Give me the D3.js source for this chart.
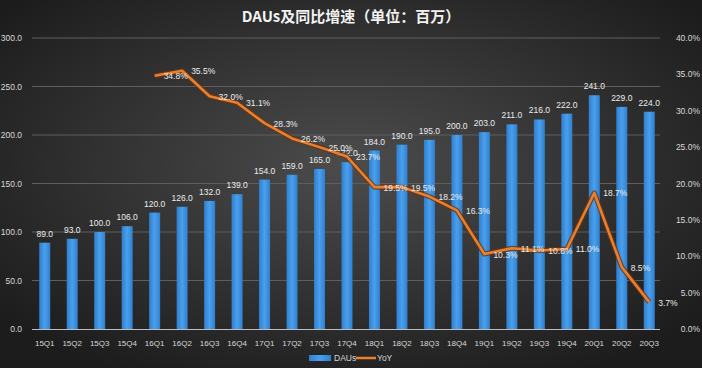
<!DOCTYPE html>
<html><head><meta charset="utf-8">
<script src="https://cdn.jsdelivr.net/npm/d3@7"></script>
<style>html,body{margin:0;padding:0;background:#2b2b2b;}svg{display:block;}</style>
</head><body>
<script>
const categories = ["15Q1","15Q2","15Q3","15Q4","16Q1","16Q2","16Q3","16Q4","17Q1","17Q2","17Q3","17Q4","18Q1","18Q2","18Q3","18Q4","19Q1","19Q2","19Q3","19Q4","20Q1","20Q2","20Q3"];
const daus = [89,93,100,106,120,126,132,139,154,159,165,172,184,190,195,200,203,211,216,222,241,229,224];
const yoyCategories = categories.slice(4);
const yoy = [34.8,35.5,32.0,31.1,28.3,26.2,25.0,23.7,19.5,19.5,18.2,16.3,10.3,11.1,10.8,11.0,18.7,8.5,3.7];
const leftTicks = [0,50,100,150,200,250,300];
const rightTicks = [0,5,10,15,20,25,30,35,40];
const title = "DAUs及同比增速（单位：百万）";

(function(){
const W = 702, H = 368;
const svg = d3.select("body").append("svg").attr("width", W).attr("height", H);
const defs = svg.append("defs");
const bg = defs.append("radialGradient").attr("id","bg").attr("cx","50%").attr("cy","45%").attr("r","65%");
bg.append("stop").attr("offset","0%").attr("stop-color","#4c4c4c");
bg.append("stop").attr("offset","100%").attr("stop-color","#1c1c1c");
const bg2 = defs.append("linearGradient").attr("id","bar").attr("x1",0).attr("x2",1).attr("y1",0).attr("y2",0);
bg2.append("stop").attr("offset","0%").attr("stop-color","#2f7fcf");
bg2.append("stop").attr("offset","50%").attr("stop-color","#4aa0ec");
bg2.append("stop").attr("offset","100%").attr("stop-color","#2f7fcf");

svg.append("rect").attr("width",W).attr("height",H).attr("fill","url(#bg)");

const pl = 31, pr = 663, pt = 38, pb = 329;
const x = d3.scaleBand().domain(categories).range([pl, pr]).paddingInner(0.6).paddingOuter(0.3);
const y = d3.scaleLinear().domain([0,300]).range([pb, pt]);
const y2 = d3.scaleLinear().domain([0,40]).range([pb, pt]);

svg.append("g").selectAll("line").data(leftTicks.filter(d=>d>0)).join("line")
  .attr("x1", 32).attr("x2", 660).attr("y1", d=>y(d)).attr("y2", d=>y(d))
  .attr("stroke","#5e5e5e").attr("stroke-width",1);

const fontF = "'Liberation Sans', 'DejaVu Sans', sans-serif";
svg.append("g").selectAll("text").data(leftTicks).join("text")
  .attr("x", 22).attr("y", d=>y(d)+3).attr("text-anchor","end")
  .attr("font-family",fontF).attr("font-size",8.5).attr("fill","#d8d8d8")
  .text(d=>d3.format(".1f")(d));
svg.append("g").selectAll("text").data(rightTicks).join("text")
  .attr("x", 700).attr("y", d=>y2(d)+3).attr("text-anchor","end")
  .attr("font-family",fontF).attr("font-size",8.5).attr("fill","#d8d8d8")
  .text(d=>d3.format(".1f")(d)+"%");

svg.append("g").selectAll("rect").data(categories).join("rect")
  .attr("x", d=>x(d)).attr("width", x.bandwidth())
  .attr("y", (d,i)=>y(daus[i])).attr("height",(d,i)=>y(0)-y(daus[i]))
  .attr("fill","url(#bar)");

svg.append("line").attr("x1",32).attr("x2",660).attr("y1",pb+0.5).attr("y2",pb+0.5)
  .attr("stroke","#bdbdbd").attr("stroke-width",1);

svg.append("g").selectAll("text").data(categories).join("text")
  .attr("x", d=>x(d)+x.bandwidth()/2).attr("y",(d,i)=>y(daus[i])-6)
  .attr("text-anchor","middle").attr("font-family",fontF).attr("font-size",8.5).attr("fill","#ececec")
  .text((d,i)=>d3.format(".1f")(daus[i]));

svg.append("g").selectAll("text").data(categories).join("text")
  .attr("x", d=>x(d)+x.bandwidth()/2).attr("y",346)
  .attr("text-anchor","middle").attr("font-family",fontF).attr("font-size",8).attr("fill","#d8d8d8")
  .text(d=>d);

const cx = d => x(d)+x.bandwidth()/2;
const line = d3.line().x((d,i)=>cx(yoyCategories[i])).y(d=>y2(d));
svg.append("path").datum(yoy).attr("d",line).attr("fill","none")
  .attr("stroke","#6b3512").attr("stroke-width",5).attr("stroke-linejoin","round").attr("opacity",0.8);
svg.append("path").datum(yoy).attr("d",line).attr("fill","none")
  .attr("stroke","#e8802f").attr("stroke-width",2.6).attr("stroke-linejoin","round");

svg.append("g").selectAll("text").data(yoy).join("text")
  .attr("x",(d,i)=>cx(yoyCategories[i])+9).attr("y",d=>y2(d)+3.5)
  .attr("font-family",fontF).attr("font-size",8.5).attr("fill","#ececec")
  .text(d=>d3.format(".1f")(d)+"%");

svg.append("text").attr("x",351).attr("y",22).attr("text-anchor","middle")
  .attr("font-family","'Noto Sans CJK SC', sans-serif").attr("font-weight","bold").attr("font-size",15).attr("fill","#f2f2f2")
  .text(title);

const lg = svg.append("g");
lg.append("rect").attr("x",309).attr("y",355).attr("width",22).attr("height",6).attr("fill","url(#bar)");
lg.append("text").attr("x",334).attr("y",361).attr("font-family",fontF).attr("font-size",8.5).attr("fill","#d8d8d8").text("DAUs");
lg.append("line").attr("x1",356).attr("x2",376).attr("y1",358).attr("y2",358).attr("stroke","#e8802f").attr("stroke-width",2.5);
lg.append("text").attr("x",377).attr("y",361).attr("font-family",fontF).attr("font-size",8.5).attr("fill","#d8d8d8").text("YoY");
})();
</script>
</body></html>
